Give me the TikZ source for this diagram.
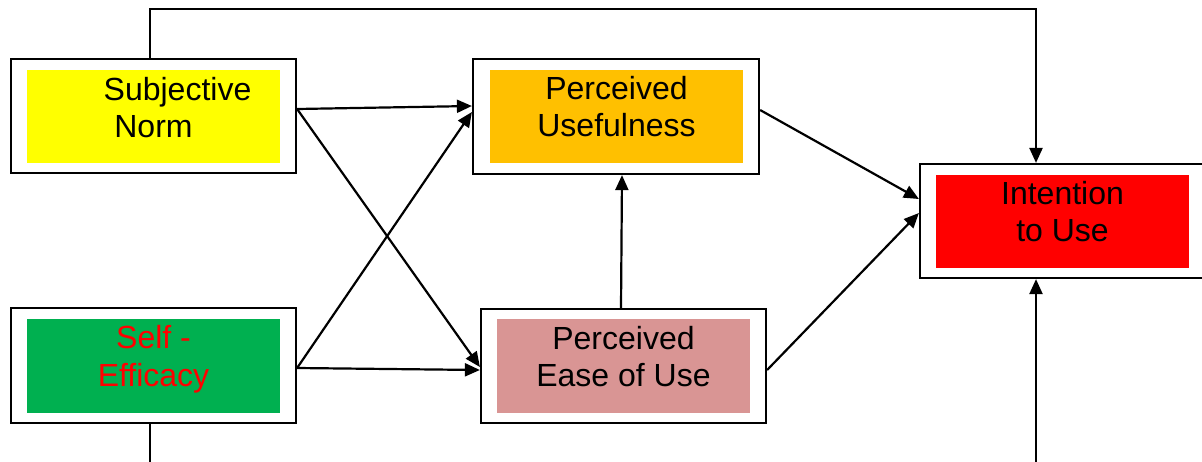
\documentclass[tikz,border=0pt]{standalone}
\usepackage{fontspec}
\setmainfont{Liberation Sans}
\usetikzlibrary{arrows.meta}
\definecolor{cyellow}{HTML}{FFFF00}
\definecolor{corange}{HTML}{FFC000}
\definecolor{cred}{HTML}{FF0000}
\definecolor{cgreen}{HTML}{00B050}
\definecolor{cpink}{HTML}{D99594}
\tikzset{
  frame/.style={draw=black, line width=2.2pt, fill=white, inner sep=0pt},
  panel/.style={draw=none, inner sep=0pt},
  label/.style={anchor=base, inner sep=0pt, font=\fontsize{32}{37}\selectfont},
  link/.style={line width=2.2pt, draw=black},
  arr/.style={link, -{Triangle[length=15pt,width=13pt]}}
}
\begin{document}
\begin{tikzpicture}[x=1pt,y=-1pt]
\useasboundingbox (0,0) rectangle (1202,461);
\clip (0,0) rectangle (1202,461);
\fill[white] (0,0) rectangle (1202,461);

% outer frames
\node[frame, minimum width=285pt, minimum height=114pt] (sn)   at (153.5,116)   {};
\node[frame, minimum width=286pt, minimum height=115pt] (pu)   at (616,116.5)   {};
\node[frame, minimum width=284pt, minimum height=114pt] (itu)  at (1062,221)    {};
\node[frame, minimum width=285pt, minimum height=115pt] (se)   at (153.5,365.5) {};
\node[frame, minimum width=285pt, minimum height=114pt] (peou) at (623.5,366)   {};

% coloured panels
\node[panel, fill=cyellow, minimum width=253pt, minimum height=93pt] (snf)   at (153.5,116.5) {};
\node[panel, fill=corange, minimum width=253pt, minimum height=93pt] (puf)   at (616.5,116.5) {};
\node[panel, fill=cred,    minimum width=253pt, minimum height=93pt] (ituf)  at (1062.5,221.5) {};
\node[panel, fill=cgreen,  minimum width=253pt, minimum height=94pt] (sef)   at (153.5,366)   {};
\node[panel, fill=cpink,   minimum width=253pt, minimum height=94pt] (peouf) at (623.5,366)   {};

% box texts
\node[label] (sn1) at (177.5,100) {Subjective};
\node[label] (sn2) at (153.5,137) {Norm};
\node[label] (pu1) at (616.5,99) {Perceived};
\node[label] (pu2) at (616.5,136) {Usefulness};
\node[label] (itu1) at (1062.5,204) {Intention};
\node[label] (itu2) at (1062.5,241) {to Use};
\node[label, text=cred] (se1) at (153.5,348) {Self -};
\node[label, text=cred] (se2) at (153.5,386) {Efficacy};
\node[label] (peou1) at (623.5,349) {Perceived};
\node[label] (peou2) at (623.5,386) {Ease of Use};

% connectors
\draw[arr] ([yshift=7pt]sn.east) -- ([yshift=10.5pt]pu.west);
\draw[arr] ([yshift=7pt]sn.east) -- ([yshift=-1pt]peou.west);
\draw[arr] ([yshift=-2.5pt]se.east) -- ([yshift=4.5pt]pu.west);
\draw[arr] ([yshift=-2.5pt]se.east) -- ([yshift=-4pt]peou.west);
\draw[arr] ([xshift=-2.5pt]peou.north) -- ([xshift=6pt]pu.south);
\draw[arr] ([yshift=6.5pt]pu.east) -- ([yshift=22pt]itu.west);
\draw[arr] ([yshift=-4pt]peou.east) -- ([yshift=8pt]itu.west);

% feedback lines round the top and bottom
\draw[arr] ([xshift=-3.5pt]sn.north) -- ++(0,-49) -| ([xshift=-26pt]itu.north);
\draw[arr] ([xshift=-3.5pt]se.south) -- ++(0,60) -| ([xshift=-26pt]itu.south);
\end{tikzpicture}
\end{document}
